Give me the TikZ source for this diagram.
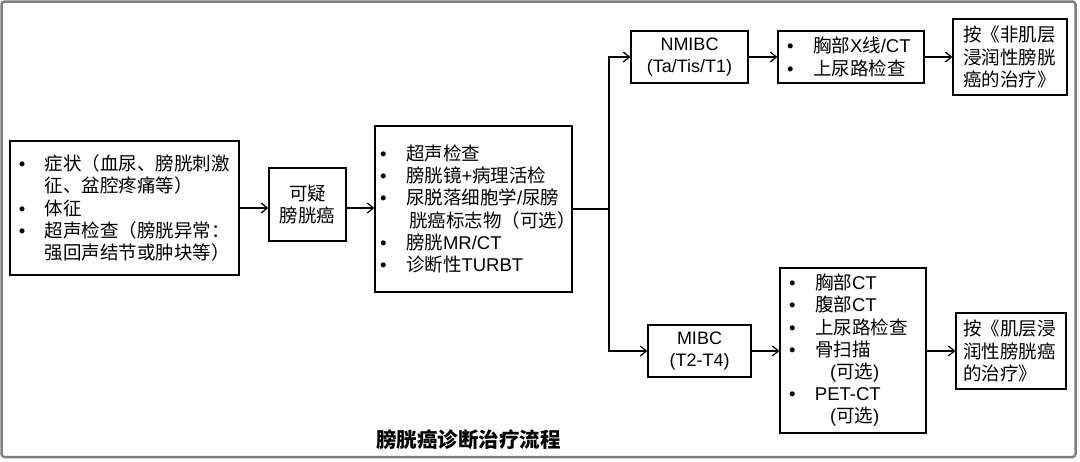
\documentclass[tikz,border=0pt]{standalone}
\usepackage{fontspec}
\setmainfont{Liberation Sans}
\newfontfamily\cjk{Noto Sans CJK SC}
\usetikzlibrary{arrows.meta}
\newcommand\lf[1]{{\rmfamily #1}}
\newcommand\bul{\makebox[26pt][l]{\lf{•}}}
\newcommand\ind[1]{\hspace*{#1}}
\tikzset{
  box/.style={draw, line width=1.3pt, inner ysep=0pt, text=black,
    font=\cjk\fontsize{18.5}{22.2}\selectfont},
  arr/.style={line width=1.3pt, -{Straight Barb[length=6pt,width=10pt]}},
  frame/.style={draw=black!50, line width=2.5pt, rounded corners=3pt},
  titletext/.style={font=\cjk\bfseries\fontsize{20.5}{24}\selectfont, inner sep=0pt}
}
\begin{document}
\begin{tikzpicture}[x=1pt,y=-1pt]
\useasboundingbox (0,0) rectangle (1080,461);
\draw[frame] (1.5,1.5) rectangle (1075.5,457);

\node[box, minimum width=229pt, minimum height=134pt, inner xsep=9pt, text width=211pt, align=left] (b1) at (124.5,208)
 {\bul 症状（血尿、膀胱刺激\\\ind{26pt}征、盆腔疼痛等）\\\bul 体征\\\bul 超声检查（膀胱异常：\\\ind{26pt}强回声结节或肿块等）};

\node[box, minimum width=77pt, minimum height=73pt, inner xsep=0pt, align=center] (b2) at (307.5,204.5)
 {可疑\\膀胱癌};

\node[box, minimum width=197pt, minimum height=166pt, inner xsep=5pt, text width=187pt, align=left] (b3) at (473.5,209)
 {\bul 超声检查\\\bul 膀胱镜\lf{+}病理活检\\\bul 尿脱落细胞学\lf{/}尿膀\\\ind{29pt}胱癌标志物（可选）\\\bul 膀胱\lf{MR/CT}\\\bul 诊断性\lf{TURBT}};

\node[box, minimum width=117pt, minimum height=52pt, inner xsep=0pt, align=center, font=\rmfamily\fontsize{18}{21.5}\selectfont] (nm) at (689.5,57)
 {NMIBC\\(Ta/Tis/T1)};

\node[box, minimum width=146pt, minimum height=52pt, inner xsep=9pt, text width=128pt, align=left] (xr) at (851,57)
 {\bul 胸部\lf{X}线\lf{/CT}\\\bul 上尿路检查};

\node[box, minimum width=114pt, minimum height=76pt, inner xsep=10pt, text width=94pt, align=left] (t1) at (1010,57)
 {按《非肌层\\浸润性膀胱\\癌的治疗》};

\node[box, minimum width=103pt, minimum height=52pt, inner xsep=0pt, align=center, font=\rmfamily\fontsize{18}{21.5}\selectfont] (mi) at (699.5,351)
 {MIBC\\(T2-T4)};

\node[box, minimum width=146pt, minimum height=165pt, inner xsep=9pt, text width=128pt, align=left] (ct) at (853,350.5)
 {\bul 胸部\lf{CT}\\\bul 腹部\lf{CT}\\\bul 上尿路检查\\\bul 骨扫描\\\ind{41pt}\lf{(}可选\lf{)}\\\bul\lf{PET-CT}\\\ind{41pt}\lf{(}可选\lf{)}};

\node[box, minimum width=110pt, minimum height=76pt, inner xsep=7pt, text width=96pt, align=left] (t2) at (1011,351)
 {按《肌层浸\\润性膀胱癌\\的治疗》};

\node[titletext] (title) at (468.5,440) {膀胱癌诊断治疗流程};

\coordinate (split) at (609,209);

\draw[arr] (b1.east |- 0,208) -- (b2.west |- 0,208);
\draw[arr] (b2.east |- 0,208) -- (b3.west |- 0,208);
\draw[line width=1.3pt] (b3.east) -- (split);
\draw[arr] (split) |- (nm.west);
\draw[arr] (split) |- (mi.west);
\draw[arr] (nm.east) -- (xr.west);
\draw[arr] (xr.east) -- (t1.west |- xr.east);
\draw[arr] (mi.east) -- (ct.west |- mi.east);
\draw[arr] (ct.east |- t2.west) -- (t2.west);
\end{tikzpicture}
\end{document}
